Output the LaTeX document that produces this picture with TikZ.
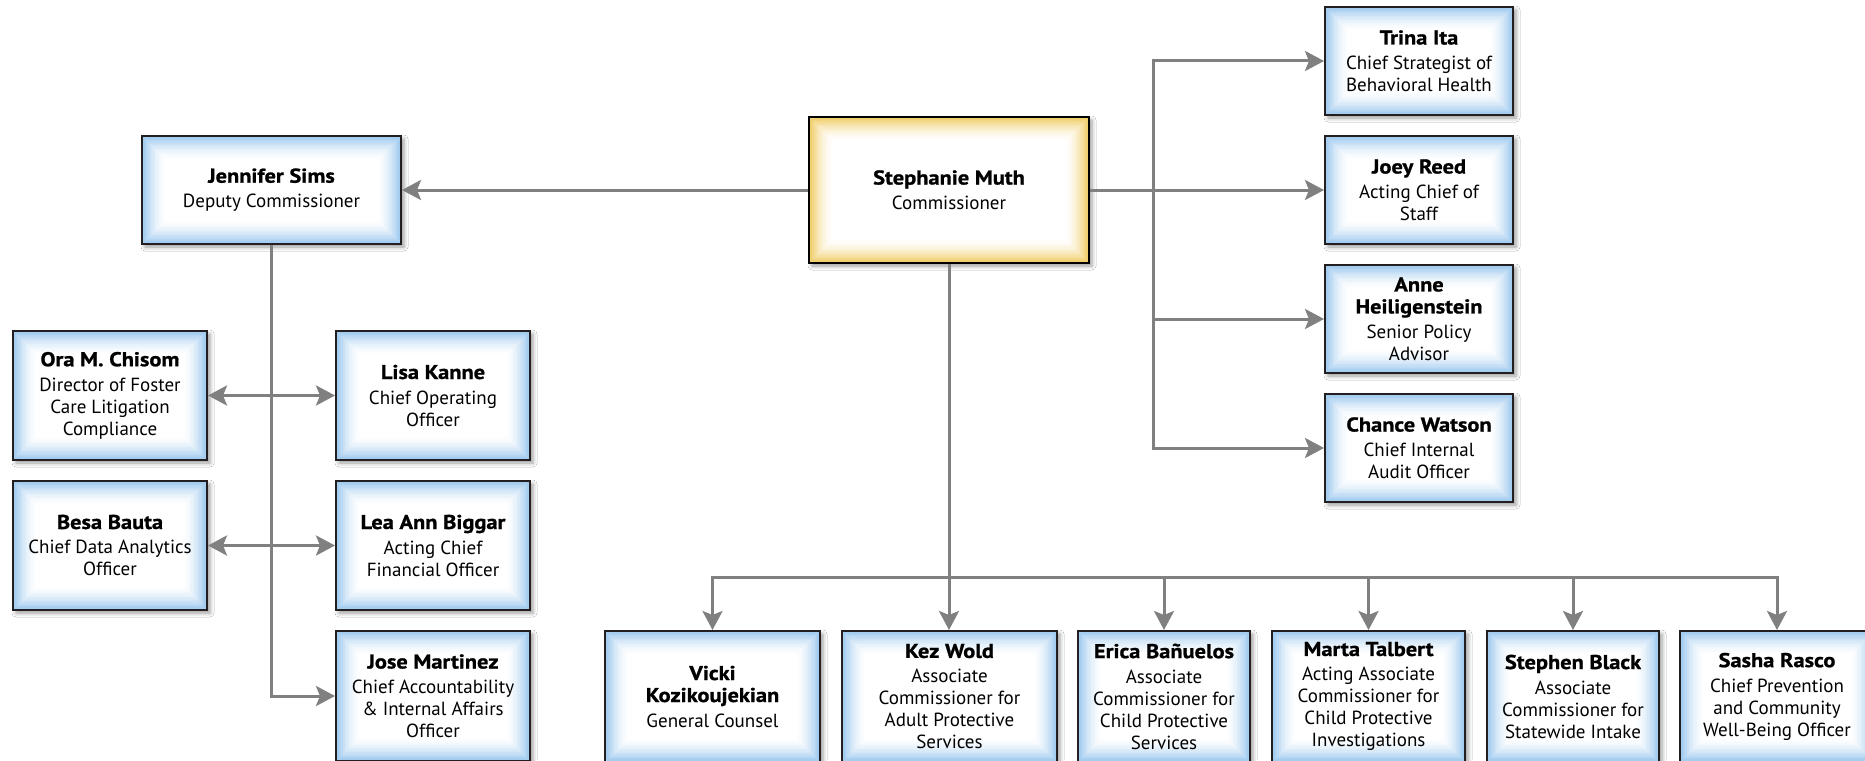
\documentclass[tikz,border=0pt]{standalone}
\usepackage{fontspec}
\setmainfont{PT Sans}
\newfontfamily\namefont[FakeStretch=1.12,FakeBold=1]{PT Sans}
\usetikzlibrary{arrows.meta,shadows.blur,calc}
\definecolor{edgeblue}{RGB}{155,200,238}
\definecolor{edgegold}{RGB}{240,204,100}
\definecolor{goldline}{RGB}{190,150,55}
\definecolor{conncol}{RGB}{128,128,128}
\definecolor{bordercol}{RGB}{35,31,32}
\newcommand{\nmline}[1]{{\namefont\bfseries\fontsize{20}{23}\selectfont #1}}
\newcommand{\who}[1]{\nmline{#1}\\[3pt]}
\tikzset{
  glowfill/.style={path picture={
    \foreach \i in {0,...,18}{
      \pgfmathsetmacro\pc{100*(1-\i/18)^1.6}
      \fill[#1!\pc!white] ([xshift=\i*1.3pt,yshift=-\i*1.3pt]path picture bounding box.north west) rectangle ([xshift=-\i*1.3pt,yshift=\i*1.3pt]path picture bounding box.south east);
    }}},
  boxbase/.style={draw=bordercol, line width=2pt, inner sep=0pt, align=center,
    font=\fontsize{19}{22}\selectfont,
    blur shadow={shadow xshift=3pt, shadow yshift=-3pt, shadow blur radius=4pt, shadow opacity=40}},
  bluebox/.style={boxbase, glowfill=edgeblue},
  goldbox/.style={boxbase, draw=black, glowfill=edgegold,
    append after command={\pgfextra{\draw[goldline, line width=1.3pt]
      ([shift={(5pt,-5pt)}]\tikzlastnode.north west) rectangle ([shift={(-5pt,5pt)}]\tikzlastnode.south east);}}},
  conn/.style={draw=conncol, line width=3pt, -{Stealth[length=19pt,width=20pt,inset=4pt]}},
  conn2/.style={draw=conncol, line width=3pt, {Stealth[length=19pt,width=20pt,inset=4pt]}-{Stealth[length=19pt,width=20pt,inset=4pt]}}
}
\newcommand{\mkbox}[7]{%
  \node[#1, minimum width={(#5-#3)*1pt}, minimum height={(#6-#4)*1pt}] (#2) at ({(#3+#5)/2},{(#4+#6)/2}) {#7};}
\begin{document}
\begin{tikzpicture}[x=1pt,y=-1pt]
\useasboundingbox (0,0) rectangle (1865,760);
\fill[white] (0,0) rectangle (1865,760);
% boxes
\mkbox{goldbox}{com}{809}{117}{1089}{263}{\who{Stephanie Muth}Commissioner}
\mkbox{bluebox}{jen}{142}{136}{401}{244}{\who{Jennifer Sims}Deputy Commissioner}
\mkbox{bluebox}{ora}{13}{331}{207}{460}{\who{Ora M. Chisom}Director of Foster\\Care Litigation\\Compliance}
\mkbox{bluebox}{lisa}{336}{331}{530}{460}{\who{Lisa Kanne}Chief Operating\\Officer}
\mkbox{bluebox}{besa}{13}{481}{207}{610}{\who{Besa Bauta}Chief Data Analytics\\Officer}
\mkbox{bluebox}{lea}{336}{481}{530}{610}{\who{Lea Ann Biggar}Acting Chief\\Financial Officer}
\mkbox{bluebox}{jose}{336}{631}{530}{761}{\who{Jose Martinez}Chief Accountability\\\& Internal Affairs\\Officer}
\mkbox{bluebox}{trina}{1325}{7}{1513}{115}{\who{Trina Ita}Chief Strategist of\\Behavioral Health}
\mkbox{bluebox}{joey}{1325}{136}{1513}{244}{\who{Joey Reed}Acting Chief of\\Staff}
\mkbox{bluebox}{anne}{1325}{265}{1513}{373}{\nmline{Anne}\\\who{Heiligenstein}Senior Policy\\Advisor}
\mkbox{bluebox}{chance}{1325}{394}{1513}{502}{\who{Chance Watson}Chief Internal\\Audit Officer}
\mkbox{bluebox}{vicki}{605}{631}{820}{762}{\nmline{Vicki}\\\who{Kozikoujekian}General Counsel}
\mkbox{bluebox}{kez}{842}{631}{1057}{762}{\who{Kez Wold}Associate\\Commissioner for\\Adult Protective\\Services}
\mkbox{bluebox}{erica}{1078}{631}{1250}{762}{\who{Erica Bañuelos}Associate\\Commissioner for\\Child Protective\\Services}
\mkbox{bluebox}{marta}{1272}{631}{1465}{762}{\who{Marta Talbert}Acting Associate\\Commissioner for\\Child Protective\\Investigations}
\mkbox{bluebox}{stephen}{1487}{631}{1659}{762}{\who{Stephen Black}Associate\\Commissioner for\\Statewide Intake}
\mkbox{bluebox}{sasha}{1680}{631}{1874}{762}{\who{Sasha Rasco}Chief Prevention\\and Community\\Well-Being Officer}
% connectors
\draw[conn] (com.west) -- (jen.east);
\draw[conn] (com.east) -- (joey.west);
\coordinate (rv) at (1153,190);
\draw[conn] (rv) |- (trina.west);
\draw[conn] (rv) |- (anne.west);
\draw[conn] (rv) |- (chance.west);
\draw[conn] (jen.south) |- (jose.west);
\draw[conn2] (ora.east) -- (lisa.west);
\draw[conn2] (besa.east) -- (lea.west);
\coordinate (bus) at (com.south |- 0,577);
\draw[conn] (com.south) -- (com.south |- kez.north);
\foreach \n in {vicki,erica,marta,stephen,sasha}{\draw[conn] (bus) -| (\n.north);}
\end{tikzpicture}
\end{document}
